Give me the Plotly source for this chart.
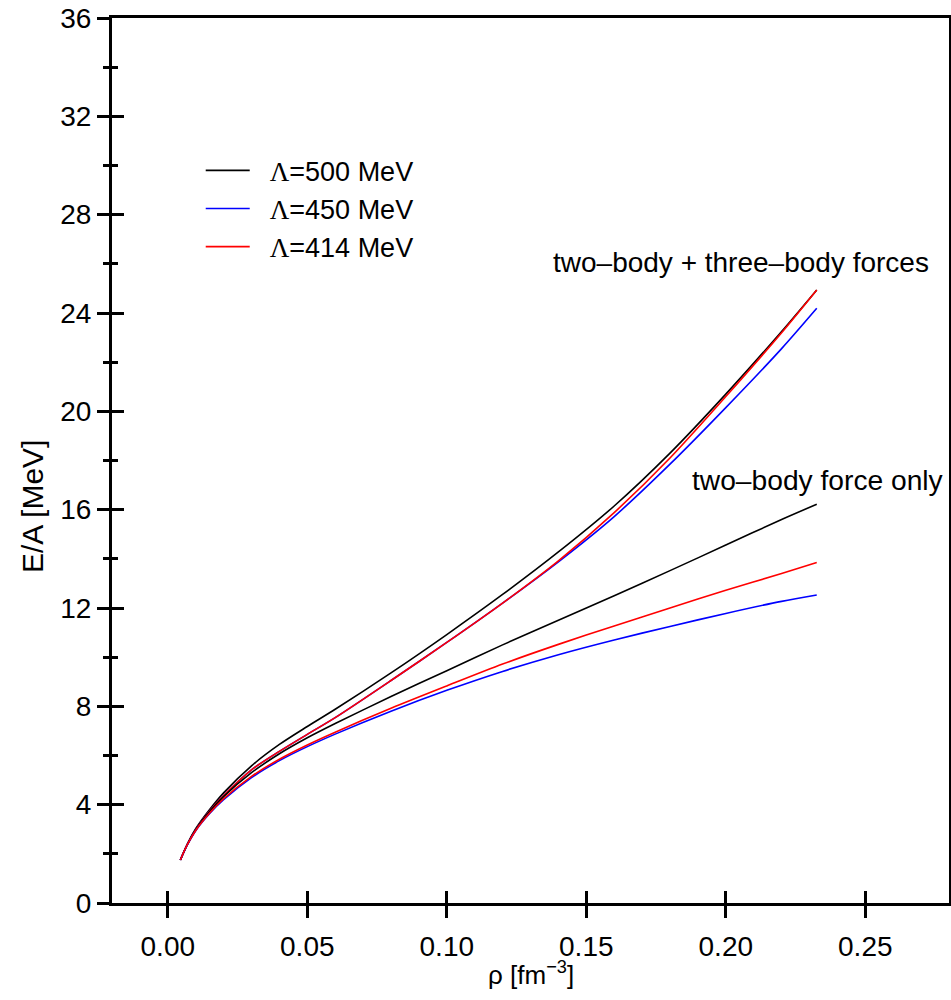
import plotly.graph_objects as go

# density grid [fm^-3]
rho = [0.0045, 0.007, 0.01, 0.015, 0.02, 0.03, 0.04, 0.05, 0.06, 0.08, 0.10,
       0.12, 0.14, 0.16, 0.18, 0.20, 0.22, 0.2326]

# two-body + three-body forces
e3_500 = [1.75, 2.4, 3.02, 3.8, 4.48, 5.58, 6.45, 7.18, 7.88, 9.36, 10.92,
          12.55, 14.28, 16.15, 18.3, 20.7, 23.25, 24.94]
e3_450 = [1.75, 2.38, 2.98, 3.74, 4.37, 5.42, 6.17, 6.86, 7.54, 9.05, 10.6,
          12.2, 13.88, 15.72, 17.85, 20.15, 22.55, 24.19]
e3_414 = [1.75, 2.38, 2.98, 3.74, 4.37, 5.42, 6.17, 6.86, 7.54, 9.05, 10.6,
          12.2, 13.92, 15.88, 18.1, 20.6, 23.2, 24.94]

# two-body force only
e2_500 = [1.75, 2.38, 2.98, 3.72, 4.33, 5.3, 6.07, 6.72, 7.3, 8.4, 9.45,
          10.5, 11.5, 12.5, 13.52, 14.56, 15.6, 16.22]
e2_450 = [1.75, 2.36, 2.94, 3.64, 4.2, 5.1, 5.79, 6.36, 6.87, 7.8, 8.65,
          9.42, 10.1, 10.7, 11.25, 11.78, 12.27, 12.53]
e2_414 = [1.75, 2.37, 2.95, 3.66, 4.24, 5.15, 5.85, 6.43, 6.95, 7.92, 8.83,
          9.72, 10.52, 11.27, 12.0, 12.72, 13.4, 13.85]

labels = ["500 MeV", "450 MeV", "414 MeV"]
colors = ["#000000", "#0000ff", "#ff0000"]

FONT = "Liberation Sans, Arial, Helvetica, sans-serif"
LAM = '<span style="font-family:Liberation Serif, Times New Roman, serif">Λ</span>'
NB = "\u00a0\u00a0"

fig = go.Figure()

series3 = [e3_500, e3_450, e3_414]
series2 = [e2_500, e2_450, e2_414]
for i in range(3):
    fig.add_trace(go.Scatter(
        x=rho, y=series3[i], mode="lines",
        line=dict(color=colors[i], width=1.6, shape="spline", smoothing=0.8),
        name=NB + LAM + "=" + labels[i], legendgroup="g%d" % i, showlegend=True))
for i in range(3):
    fig.add_trace(go.Scatter(
        x=rho, y=series2[i], mode="lines",
        line=dict(color=colors[i], width=1.6, shape="spline", smoothing=0.8),
        name=NB + LAM + "=" + labels[i], legendgroup="g%d" % i, showlegend=False))

XR = [-0.02, 0.28]
YR = [0, 36]
xt = [0.0, 0.05, 0.10, 0.15, 0.20, 0.25]
xtl = ["0.00", "0.05", "0.10", "0.15", "0.20", "0.25"]
yt = [0, 4, 8, 12, 16, 20, 24, 28, 32, 36]

fig.update_layout(
    width=951, height=1000,
    margin=dict(l=112, r=2, t=18, b=97),
    paper_bgcolor="white", plot_bgcolor="white",
    font=dict(family=FONT, size=28, color="black"),
    showlegend=True,
    legend=dict(x=0.106, y=0.855, xanchor="left", yanchor="top",
                bgcolor="rgba(0,0,0,0)", font=dict(size=27),
                tracegroupgap=0, itemwidth=44),
    xaxis=dict(range=XR, tickvals=xt, ticktext=xtl, ticks="outside", ticklen=12,
               tickwidth=3, tickcolor="black", showline=True, linewidth=3,
               linecolor="black", mirror=True, showgrid=False, zeroline=False,
               automargin=False, ticklabelstandoff=4,
               tickfont=dict(size=28)),
    yaxis=dict(range=YR, tickvals=yt, ticks="outside", ticklen=12,
               tickwidth=3, tickcolor="black", showline=True, linewidth=3,
               linecolor="black", mirror=True, showgrid=False, zeroline=False,
               automargin=False,
               minor=dict(dtick=2, ticks="outside", ticklen=6, tickwidth=3, tickcolor="black"),
               tickfont=dict(size=28)),
    xaxis2=dict(range=XR, overlaying="x", side="bottom", tickvals=xt,
                ticks="inside", ticklen=12, tickwidth=3, tickcolor="black",
                showticklabels=False, showgrid=False, zeroline=False, showline=False,
                automargin=False),
    yaxis2=dict(range=YR, overlaying="y", side="left", tickvals=yt,
                ticks="inside", ticklen=12, tickwidth=3, tickcolor="black",
                minor=dict(dtick=2, ticks="inside", ticklen=6, tickwidth=3, tickcolor="black"),
                showticklabels=False, showgrid=False, zeroline=False, showline=False,
                automargin=False),
    annotations=[
        dict(x=0.2737, y=26.05, xref="x", yref="y", text="two–body + three–body forces",
             showarrow=False, xanchor="right", yanchor="middle", font=dict(size=28)),
        dict(x=0.2789, y=17.2, xref="x", yref="y", text="two–body force only",
             showarrow=False, xanchor="right", yanchor="middle", font=dict(size=28.2)),
        # axis titles
        dict(x=0.5, y=-0.0588, xref="paper", yref="paper", text="ρ [fm<sup>−3</sup>]",
             showarrow=False, xanchor="center", yanchor="top", font=dict(size=26)),
        dict(x=-0.0944, y=0.4486, xref="paper", yref="paper", text="E/A [MeV]",
             showarrow=False, xanchor="center", yanchor="middle", textangle=-90,
             font=dict(size=30)),
    ],
)

# invisible trace so the overlay axes are drawn
fig.add_trace(go.Scatter(x=[XR[0]], y=[YR[0]], xaxis="x2", yaxis="y2", mode="markers",
                         marker=dict(opacity=0), showlegend=False, hoverinfo="skip"))

# remove the default 8px page margin so the figure sits at the window's corner
fig.write_html("out.html", config={"displayModeBar": False},
               post_script="document.body.style.margin='0';document.body.style.overflow='hidden';")
